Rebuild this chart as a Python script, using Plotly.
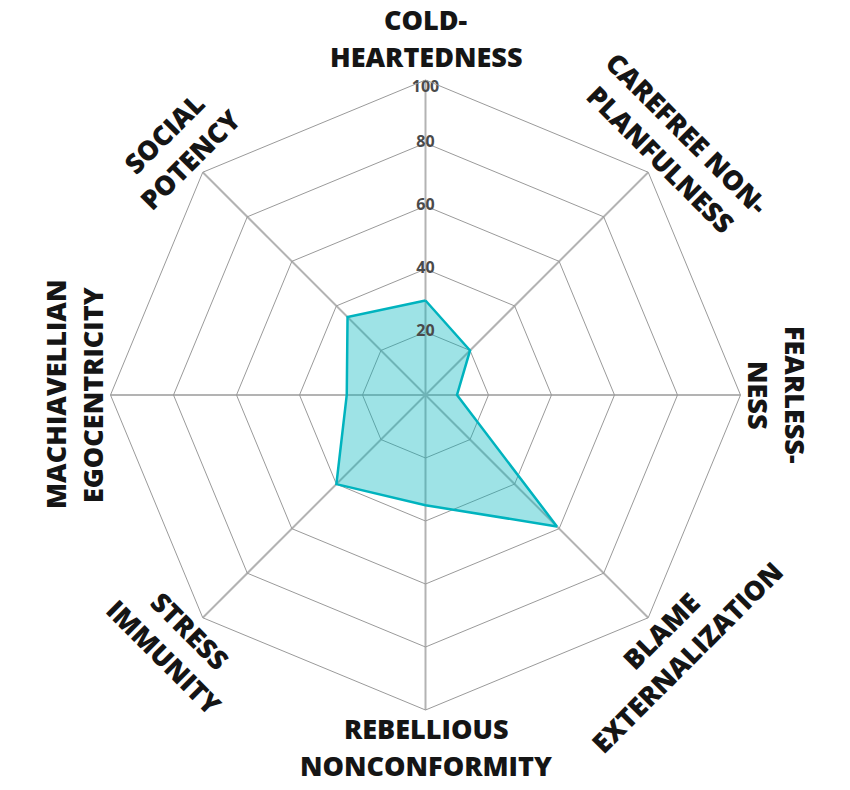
import math
import plotly.graph_objects as go

categories = ["Cold-heartedness", "Carefree Nonplanfulness", "Fearlessness",
              "Blame Externalization", "Rebellious Nonconformity", "Stress Immunity",
              "Machiavellian Egocentricity", "Social Potency"]
label_lines = [["COLD-", "HEARTEDNESS"], ["CAREFREE NON-", "PLANFULNESS"], ["FEARLESS-", "NESS"],
               ["BLAME", "EXTERNALIZATION"], ["REBELLIOUS", "NONCONFORMITY"], ["STRESS", "IMMUNITY"],
               ["MACHIAVELLIAN", "EGOCENTRICITY"], ["SOCIAL", "POTENCY"]]
values = [30, 20, 10, 59, 35, 40, 25, 35]
radial_ticks = [20, 40, 60, 80, 100]
radial_tick_labels = ["20", "40", "60", "80", "100"]

W, H = 850, 790
# chart centre and outer radius in pixels
cx, cy, rad = 425.5, 395.0, 315.0
dom_x = [(cx - rad) / W, (cx + rad) / W]
dom_y = [1 - (cy + rad) / H, 1 - (cy - rad) / H]

fig = go.Figure()
fig.add_trace(go.Scatterpolar(
    r=values + values[:1], theta=categories + categories[:1],
    mode="lines", fill="toself",
    fillcolor="rgba(0,181,190,0.38)",
    line=dict(color="#00b3be", width=2.5),
    hoverinfo="skip", showlegend=False))
fig.add_trace(go.Scatterpolar(
    r=radial_ticks, theta=[categories[0]] * len(radial_ticks),
    mode="text", text=radial_tick_labels,
    textfont=dict(family="Open Sans", size=16, color="#4a4a4a", weight="bold"),
    textposition=["middle center"] * 4 + ["bottom center"],
    hoverinfo="skip", showlegend=False))

# category labels placed tangentially around the chart, one annotation per line
n = len(categories)
gap = 18.5
for i, lines in enumerate(label_lines):
    t = 360.0 * i / n
    R = 357 if i == 0 else 352
    top_half = not (90 < t < 270)
    if 90 < t < 270:
        ang = t - 180
    elif t >= 270:
        ang = t - 360
    else:
        ang = t
    for j, line in enumerate(lines):
        if top_half:
            r_line = R + gap if j == 0 else R - gap
        else:
            r_line = R - gap if j == 0 else R + gap
        px = cx + r_line * math.sin(math.radians(t))
        py = cy - r_line * math.cos(math.radians(t))
        fig.add_annotation(
            x=px / W, y=1 - py / H, xref="paper", yref="paper",
            text=line, showarrow=False, textangle=ang,
            xanchor="center", yanchor="middle", align="center", borderpad=0,
            font=dict(family="Open Sans", size=27, color="#151515", weight=800))

fig.update_layout(
    width=W, height=H,
    margin=dict(l=0, r=0, t=0, b=0),
    paper_bgcolor="white", plot_bgcolor="white",
    showlegend=False,
    polar=dict(
        domain=dict(x=dom_x, y=dom_y),
        bgcolor="white",
        gridshape="linear",
        radialaxis=dict(range=[0, 100], tickvals=radial_ticks, showticklabels=False,
                        ticks="", showline=False, gridcolor="#9a9a9a", gridwidth=1),
        angularaxis=dict(rotation=90, direction="clockwise", showticklabels=False,
                         ticks="", showline=True, linecolor="#9a9a9a", linewidth=1,
                         gridcolor="#b3b3b3", gridwidth=2),
    ),
)
fig.write_html("out.html", config={"displayModeBar": False},
               post_script="document.body.style.margin='0';")
